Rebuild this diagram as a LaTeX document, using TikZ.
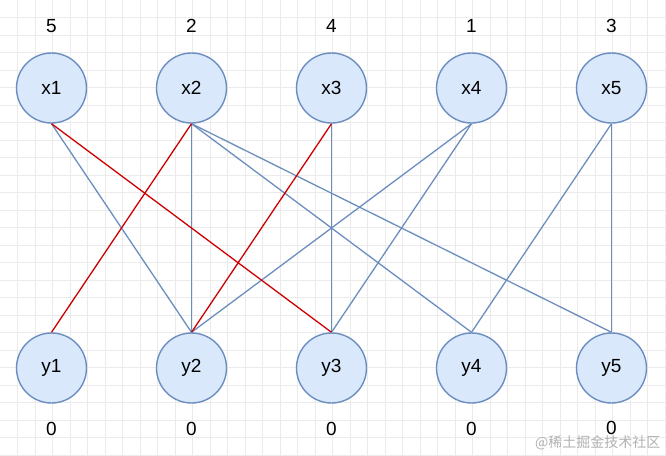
\documentclass[tikz,border=0pt]{standalone}
\usepackage{fontspec}
\setmainfont{Liberation Sans}
\newfontfamily\cjk{Noto Sans CJK SC}
\definecolor{nodefill}{HTML}{DAE8FC}
\definecolor{nodeline}{HTML}{6C8EBF}
\definecolor{redline}{HTML}{CC0000}
\definecolor{gridc}{HTML}{EBEBEB}
\begin{document}
\begin{tikzpicture}[x=1pt,y=-1pt,
  vtx/.style={circle,draw=nodeline,fill=nodefill,line width=1.4pt,minimum size=70pt,inner sep=0pt,font=\fontsize{19}{21}\selectfont},
  lbl/.style={font=\fontsize{19}{21}\selectfont},
  bedge/.style={draw=nodeline,line width=1.3pt},
  redge/.style={draw=redline,line width=1.3pt}]
\useasboundingbox (0,0) rectangle (666,455);
\fill[white] (0,0) rectangle (666,455);
\foreach \i in {1,...,38} {\draw[gridc,line width=0.6pt] (17.5*\i,0) -- (17.5*\i,455);}
\foreach \i in {1,...,26} {\draw[gridc,line width=0.6pt] (0,17.5*\i) -- (666,17.5*\i);}
% top nodes
\node[vtx] (x1) at (51.5,88) {x1};
\node[vtx] (x2) at (191.5,88) {x2};
\node[vtx] (x3) at (331.5,88) {x3};
\node[vtx] (x4) at (471.5,88) {x4};
\node[vtx] (x5) at (611.5,88) {x5};
% bottom nodes
\node[vtx] (y1) at (51.5,368) {y1};
\node[vtx] (y2) at (191.5,368) {y2};
\node[vtx] (y3) at (331.5,368) {y3};
\node[vtx] (y4) at (471.5,368) {y4};
\node[vtx] (y5) at (611.5,368) {y5};
% labels
\node[lbl] (l1) at (51.5,26) {5};
\node[lbl] (l2) at (191.5,26) {2};
\node[lbl] (l3) at (331.5,26) {4};
\node[lbl] (l4) at (471.5,26) {1};
\node[lbl] (l5) at (611.5,26) {3};
\node[lbl] (m1) at (51.5,429) {0};
\node[lbl] (m2) at (191.5,429) {0};
\node[lbl] (m3) at (331.5,429) {0};
\node[lbl] (m4) at (471.5,429) {0};
\node[lbl] (m5) at (611.5,428) {0};
% blue edges
\draw[bedge] (x1.south) -- (y2.north);
\draw[bedge] (x2.south) -- (y2.north);
\draw[bedge] (x2.south) -- (y4.north);
\draw[bedge] (x2.south) -- (y5.north);
\draw[bedge] (x3.south) -- (y3.north);
\draw[bedge] (x4.south) -- (y2.north);
\draw[bedge] (x4.south) -- (y3.north);
\draw[bedge] (x5.south) -- (y4.north);
\draw[bedge] (x5.south) -- (y5.north);
% red edges
\draw[redge] (x1.south) -- (y3.north);
\draw[redge] (x2.south) -- (y1.north);
\draw[redge] (x3.south) -- (y2.north);
% watermark
\node[anchor=east,text=black!30,font=\cjk\fontsize{14}{16}\selectfont,inner ysep=0pt] (wm) at (664,443) {@稀土掘金技术社区};
\end{tikzpicture}
\end{document}
